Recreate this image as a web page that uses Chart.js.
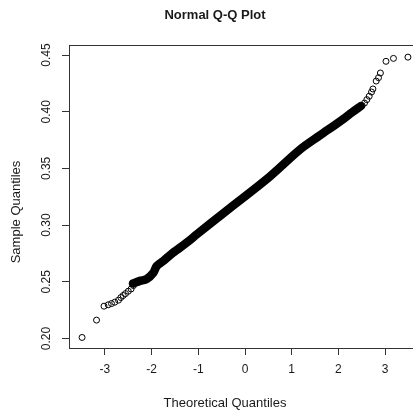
<!DOCTYPE html>
<html>
<head>
<meta charset="utf-8">
<title>Normal Q-Q Plot</title>
<script src="https://cdn.jsdelivr.net/npm/chart.js@4.4.0/dist/chart.umd.min.js"></script>
<style>
html,body{margin:0;padding:0;background:#fff;overflow:hidden;width:413px;height:414px}
#qq{display:block}
</style>
</head>
<body>
<canvas id="qq" width="430" height="414"></canvas>
<script>
// dense middle of the sample, traced as one thick run
const bandX=[-2.40,-2.25,-2.11,-1.96,-1.89,-1.75,-1.54,-1.25,-1.03,-0.50,0.00,0.54,1.18,1.60,2.04,2.30,2.48];
const bandY=[0.2485,0.2508,0.2523,0.2581,0.2640,0.2684,0.2757,0.2845,0.2919,0.3093,0.3254,0.3432,0.3667,0.3790,0.3917,0.3997,0.4050];
// single points in the tails
const lowX=[-3.49,-3.18,-3.02,-2.93,-2.86,-2.79,-2.71,-2.66,-2.61,-2.56,-2.50,-2.44,-2.39];
const lowY=[0.2009,0.2162,0.2285,0.2297,0.2308,0.2320,0.2338,0.2361,0.2379,0.2396,0.2417,0.2437,0.2467];
const highX=[2.51,2.56,2.61,2.66,2.71,2.74,2.81,2.86,2.90,3.02,3.18,3.49];
const highY=[0.4055,0.4077,0.4107,0.4137,0.4174,0.4201,0.4271,0.4301,0.4342,0.4445,0.4471,0.4482];
const xTicks=[-3,-2,-1,0,1,2,3];
const yTicks=[0.20,0.25,0.30,0.35,0.40,0.45];

const FONT='"Liberation Sans", Arial, sans-serif';
const pts=(xs,ys)=>xs.map((x,i)=>({x:x,y:ys[i]}));

// box, rotated y labels and the titles
const decor={
  id:'decor',
  afterDraw(chart){
    const ctx=chart.ctx, a=chart.chartArea, ys=chart.scales.y;
    ctx.save();
    ctx.strokeStyle='#333';ctx.lineWidth=1;
    ctx.strokeRect(a.left+0.5,a.top+0.5,a.right-a.left,a.bottom-a.top);
    ctx.fillStyle='#1a1a1a';
    ctx.textAlign='center';ctx.textBaseline='middle';
    ctx.font='12px '+FONT;
    yTicks.forEach(v=>{
      ctx.save();ctx.translate(47,ys.getPixelForValue(v));ctx.rotate(-Math.PI/2);
      ctx.fillText(v.toFixed(2),0,0);ctx.restore();
    });
    ctx.font='13px '+FONT;
    ctx.fillText('Theoretical Quantiles',225,403);
    ctx.save();ctx.translate(16,212);ctx.rotate(-Math.PI/2);
    ctx.fillText('Sample Quantiles',0,0);ctx.restore();
    ctx.font='bold 13px '+FONT;
    ctx.fillText('Normal Q-Q Plot',215,15);
    ctx.restore();
  }
};

new Chart(document.getElementById('qq'),{
  type:'scatter',
  data:{datasets:[
    {data:pts(bandX,bandY),showLine:true,borderColor:'#000',borderWidth:8.5,
     borderJoinStyle:'round',borderCapStyle:'round',pointRadius:0,tension:0.3},
    {data:pts(lowX,lowY).concat(pts(highX,highY)),pointRadius:3,pointBorderWidth:1,
     borderColor:'#000',backgroundColor:'rgba(0,0,0,0)'}
  ]},
  options:{
    responsive:false,animation:false,
    layout:{padding:{left:0,top:45,right:9,bottom:0}},
    plugins:{legend:{display:false},tooltip:{enabled:false}},
    scales:{
      x:{type:'linear',min:-3.77,max:3.77,
        afterBuildTicks:s=>{s.ticks=xTicks.map(v=>({value:v}));},
        afterFit:s=>{s.height=66;},
        border:{display:false},
        grid:{drawOnChartArea:false,tickLength:7,color:'#333'},
        ticks:{color:'#1a1a1a',padding:7,font:{family:FONT,size:12},callback:v=>String(v)}},
      y:{type:'linear',min:0.1916,max:0.4589,
        afterBuildTicks:s=>{s.ticks=yTicks.map(v=>({value:v}));},
        afterFit:s=>{s.width=69;},
        border:{display:false},
        grid:{drawOnChartArea:false,tickLength:7,color:'#333'},
        ticks:{display:false}}
    }
  },
  plugins:[decor]
});
</script>
</body>
</html>
